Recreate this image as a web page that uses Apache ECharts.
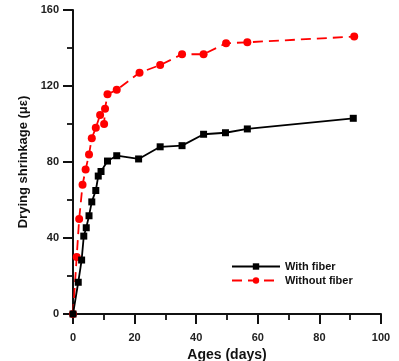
<!DOCTYPE html>
<html><head><meta charset="utf-8">
<script src="https://cdn.jsdelivr.net/npm/echarts@6/dist/echarts.min.js"></script>
<style>html,body{margin:0;padding:0;background:#fff}#c{width:399px;height:361px}</style>
</head><body><div id="c"></div>
<script>
var withFiberDays = [0, 1.7, 2.8, 3.5, 4.3, 5.2, 6.1, 7.4, 8.2, 9.1, 11.2, 14.2, 21.3, 28.3, 35.4, 42.4, 49.5, 56.6, 91];
var withFiberVals = [0, 16.7, 28.4, 41, 45.4, 51.7, 59, 65, 72.6, 75, 80.5, 83.3, 81.6, 88, 88.6, 94.6, 95.4, 97.4, 103];
var withoutFiberDays = [0, 1.2, 2.0, 3.1, 4.1, 5.2, 6.1, 7.4, 8.8, 10.1, 10.4, 11.2, 14.2, 21.6, 28.3, 35.4, 42.4, 49.7, 56.6, 91.3];
var withoutFiberVals = [0, 30, 50, 68, 76, 84, 92.5, 98, 104.7, 100, 108, 115.6, 118, 127, 131, 136.7, 136.7, 142.5, 143, 146];
var yTicks = [0, 40, 80, 120, 160];
var xTicks = [0, 20, 40, 60, 80, 100];

function pairs(xs, ys){ return xs.map(function(x,i){ return [x, ys[i]]; }); }

var chart = echarts.init(document.getElementById('c'));
var lblFont = {color:'#222', fontWeight:'bold', fontSize:11, fontFamily:'Liberation Sans, Arial'};
chart.setOption({
  animation:false,
  grid:{left:73, right:18, top:10, bottom:47, containLabel:false, outerBoundsMode:'none'},
  legend:{
    orient:'vertical', left:226, top:256, itemGap:3, itemWidth:48, itemHeight:8,
    textStyle:{fontWeight:'bold', fontSize:11, color:'#111', fontFamily:'Liberation Sans, Arial'},
    data:['With fiber','Without fiber']
  },
  xAxis:{
    type:'value', min:0, max:100, interval:20,
    name:'Ages (days)', nameLocation:'middle', nameGap:31,
    nameTextStyle:{fontWeight:'bold', fontSize:14, color:'#111', fontFamily:'Liberation Sans, Arial'},
    axisLine:{onZero:false, lineStyle:{color:'#111', width:2}},
    axisTick:{inside:false, length:10, lineStyle:{width:2, color:'#111'}},
    minorTick:{show:true, splitNumber:2, length:6, lineStyle:{width:1.8, color:'#111'}},
    axisLabel:Object.assign({margin:18, formatter:function(v){return xTicks.indexOf(v)>=0?String(v):'';}}, lblFont),
    splitLine:{show:false}
  },
  yAxis:{
    type:'value', min:0, max:160, interval:40,
    name:'Drying shrinkage (\u03bc\u03b5)', nameLocation:'middle', nameGap:43, nameRotate:90,
    nameTextStyle:{fontWeight:'bold', fontSize:13, color:'#111', fontFamily:'Liberation Sans, Arial'},
    axisLine:{show:true, lineStyle:{color:'#111', width:2}},
    axisTick:{show:true, inside:false, length:10, lineStyle:{width:2, color:'#111'}},
    minorTick:{show:true, splitNumber:2, length:6, lineStyle:{width:1.8, color:'#111'}},
    axisLabel:Object.assign({margin:14, formatter:function(v){return yTicks.indexOf(v)>=0?String(v):'';}}, lblFont),
    splitLine:{show:false}
  },
  series:[
    {name:'With fiber', type:'line', data:pairs(withFiberDays, withFiberVals),
     symbol:'rect', symbolSize:7, itemStyle:{color:'#000'}, lineStyle:{color:'#000', width:1.8}, z:3},
    {name:'Without fiber', type:'line', data:pairs(withoutFiberDays, withoutFiberVals),
     symbol:'circle', symbolSize:8, itemStyle:{color:'#f00'}, lineStyle:{color:'#f00', width:1.8, type:[10,6]}, z:2}
  ]
});
</script></body></html>
